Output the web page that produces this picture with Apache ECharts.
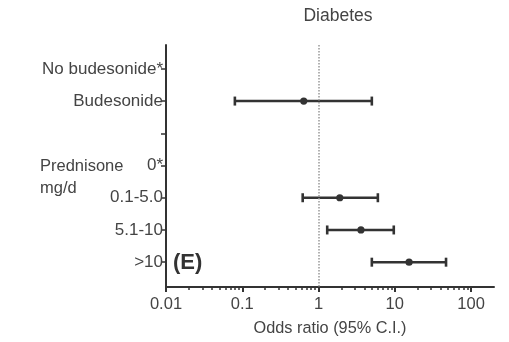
<!DOCTYPE html>
<html><head><meta charset="utf-8">
<script src="https://cdn.jsdelivr.net/npm/echarts@6/dist/echarts.min.js"></script>
<style>html,body{margin:0;padding:0;background:#fff}#c{width:509px;height:342px}</style>
</head><body><div id="c"></div>
<script>
// ---- data ----
const rowLabels = ["No budesonide*", "Budesonide", "", "0*", "0.1-5.0", "5.1-10", ">10"];
const rowIndex  = [1, 4, 5, 6];            // rows that have an estimate
const estimate  = [0.64, 1.9, 3.6, 15.4];
const lowerCI   = [0.08, 0.62, 1.3, 5.0];
const upperCI   = [5.0, 6.0, 9.7, 47];
const majorTicks = [0.01, 0.1, 1, 10, 100];
const minorTicks = [0.02,0.03,0.04,0.05,0.06,0.07,0.08,0.09,
                    0.2,0.3,0.4,0.5,0.6,0.7,0.8,0.9,
                    2,3,4,5,6,7,8,9,
                    20,30,40,50,60,70,80,90];
const tickLabels = ["0.01", "0.1", "1", "10", "100"];
const refLine = 1;

const FONT = "'Liberation Sans', Arial, Helvetica, sans-serif";
const TXT = '#444';
const INK = '#333';

const errData = rowIndex.map((r, i) => [estimate[i], r, lowerCI[i], upperCI[i]]);

const chart = echarts.init(document.getElementById('c'), null, {renderer: 'canvas'});
chart.setOption({
  animation: false,
  backgroundColor: '#fff',
  title: {
    text: 'Diabetes', left: 333, top: 2, textAlign: 'center',
    textStyle: {fontFamily: FONT, fontSize: 17.5, fontWeight: 'normal', color: TXT}
  },
  grid: {left: 166, right: 15, top: 45, bottom: 54, containLabel: false},
  xAxis: [{
    type: 'log', logBase: 10, min: 0.01, max: 200,
    name: 'Odds ratio (95% C.I.)', nameLocation: 'middle', nameGap: 34,
    nameTextStyle: {fontFamily: FONT, fontSize: 16.3, color: TXT},
    axisLine: {show: true, onZero: false, lineStyle: {color: INK, width: 2}},
    axisTick: {show: true, length: 5, lineStyle: {color: INK, width: 2}, customValues: majorTicks},
    axisLabel: {fontFamily: FONT, fontSize: 16.5, color: TXT, margin: 9, customValues: majorTicks,
      formatter: v => { const i = majorTicks.findIndex(m => Math.abs(Math.log10(m) - Math.log10(v)) < 1e-6); return i >= 0 ? tickLabels[i] : ''; }},
    splitLine: {show: false}
  }, {
    type: 'log', logBase: 10, min: 0.01, max: 200, position: 'bottom', offset: 0,
    axisLine: {show: false, onZero: false},
    axisTick: {show: true, length: 3, lineStyle: {color: INK, width: 1.5}, customValues: minorTicks},
    axisLabel: {show: false},
    splitLine: {show: false}
  }],
  yAxis: {
    type: 'value', inverse: true, min: -0.74, max: 6.77,
    axisLine: {show: true, onZero: false, lineStyle: {color: INK, width: 2}},
    axisTick: {show: true, length: 5, lineStyle: {color: INK, width: 1.5}, customValues: rowLabels.map((_, i) => i)},
    axisLabel: {fontFamily: FONT, fontSize: 17, color: TXT, margin: 3, customValues: rowLabels.map((_, i) => i),
      formatter: v => rowLabels[Math.round(v)] || ''},
    splitLine: {show: false}
  },
  graphic: [
    {type: 'text', left: 40, top: 155, style: {text: 'Prednisone\nmg/d', fontFamily: FONT, fontSize: 16.5, fill: TXT, lineHeight: 22}},
    {type: 'text', left: 173, top: 252, style: {text: '(E)', fontFamily: FONT, fontSize: 22, fontWeight: 'bold', fill: INK}}
  ],
  series: [{
    type: 'custom',
    xAxisIndex: 0,
    encode: {x: [0, 2, 3], y: 1},
    data: errData,
    renderItem: function (params, api) {
      const y = api.value(1);
      const pe = api.coord([api.value(0), y]);
      const pl = api.coord([api.value(2), y]);
      const ph = api.coord([api.value(3), y]);
      const cap = 4.5;
      const st = {stroke: INK, lineWidth: 2.6};
      return {type: 'group', children: [
        {type: 'line', shape: {x1: pl[0], y1: pl[1], x2: ph[0], y2: ph[1]}, style: st},
        {type: 'line', shape: {x1: pl[0], y1: pl[1] - cap, x2: pl[0], y2: pl[1] + cap}, style: st},
        {type: 'line', shape: {x1: ph[0], y1: ph[1] - cap, x2: ph[0], y2: ph[1] + cap}, style: st},
        {type: 'circle', shape: {cx: pe[0], cy: pe[1], r: 3.6}, style: {fill: INK}}
      ]};
    },
    markLine: {
      silent: true, symbol: 'none', label: {show: false},
      lineStyle: {color: '#999', type: 'dotted', width: 1.5},
      data: [{xAxis: refLine}]
    },
    z: 3
  }]
});
</script></body></html>
